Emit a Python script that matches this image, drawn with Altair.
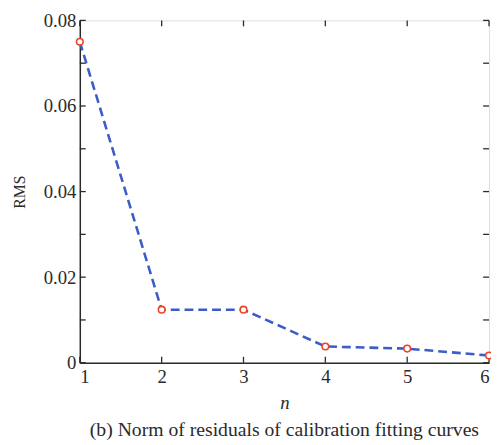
import altair as alt
import pandas as pd

n_vals = [1, 2, 3, 4, 5, 6]
rms_vals = [0.0750, 0.0124, 0.0124, 0.0038, 0.0033, 0.0017]
y_tick_vals = [0, 0.01, 0.02, 0.03, 0.04, 0.05, 0.06, 0.07, 0.08]
y_label_vals = [0, 0.02, 0.04, 0.06, 0.08]
x_tick_vals = [1, 2, 3, 4, 5, 6]

W, H = 416, 348
FONT = "Liberation Serif"
INK = "#2a2a2a"

df = pd.DataFrame({"n": n_vals, "rms": rms_vals})
yt = pd.DataFrame({"v": y_tick_vals})
xt = pd.DataFrame({"v": x_tick_vals})

xscale = alt.Scale(domain=[1, 6], nice=False, zero=False)
yscale = alt.Scale(domain=[0, 0.08], nice=False)

line = alt.Chart(df).mark_line(
    color="#3b5cc9", strokeWidth=2.6, strokeDash=[9, 5]
).encode(
    x=alt.X("n:Q", scale=xscale,
            axis=alt.Axis(values=x_tick_vals, format="d", title="n",
                          titleFontStyle="italic", titleFontWeight="normal",
                          titleFontSize=19, titlePadding=8,
                          labelFontSize=19, labelPadding=5, tickSize=0,
                          grid=False, domainColor=INK, domainWidth=1.5,
                          labelColor=INK, titleColor=INK,
                          labelFont=FONT, titleFont=FONT)),
    y=alt.Y("rms:Q", scale=yscale,
            axis=alt.Axis(values=y_label_vals, title="RMS",
                          labelExpr="datum.value == 0 ? '0' : format(datum.value, '.2f')",
                          titleFontWeight="normal", titleFontSize=16,
                          titlePadding=16, labelFontSize=19, labelPadding=4,
                          tickSize=0, grid=False, domainColor=INK,
                          domainWidth=1.5, labelColor=INK, titleColor=INK,
                          labelFont=FONT, titleFont=FONT)),
)

pts = alt.Chart(df).mark_point(
    shape="circle", filled=True, fill="white", stroke="#e8462a",
    strokeWidth=1.6, size=45, opacity=1
).encode(x=alt.X("n:Q", scale=xscale), y=alt.Y("rms:Q", scale=yscale))

tick_len = 6
yl = alt.Chart(yt).mark_rule(color=INK, strokeWidth=1.3).encode(
    y=alt.Y("v:Q", scale=yscale), x=alt.value(0), x2=alt.value(tick_len))
yr = alt.Chart(yt).mark_rule(color=INK, strokeWidth=1.3).encode(
    y=alt.Y("v:Q", scale=yscale), x=alt.value(W - tick_len), x2=alt.value(W))
xb = alt.Chart(xt).mark_rule(color=INK, strokeWidth=1.3).encode(
    x=alt.X("v:Q", scale=xscale), y=alt.value(H), y2=alt.value(H - tick_len))
xtp = alt.Chart(xt).mark_rule(color=INK, strokeWidth=1.3).encode(
    x=alt.X("v:Q", scale=xscale), y=alt.value(0), y2=alt.value(tick_len))

chart = alt.layer(yl, yr, xb, xtp, line, pts).properties(
    width=W, height=H,
    autosize=alt.AutoSizeParams(type="none"),
    padding={"left": 73, "top": 9, "right": 2, "bottom": 80},
    title=alt.Title("(b) Norm of residuals of calibration fitting curves",
                    orient="bottom", anchor="middle", fontSize=20,
                    fontWeight="normal", font=FONT, color=INK, offset=7),
).configure_view(stroke=INK, strokeWidth=1.5).configure(background="white")

chart.save("out.html", embed_options={"renderer": "svg", "actions": False})
